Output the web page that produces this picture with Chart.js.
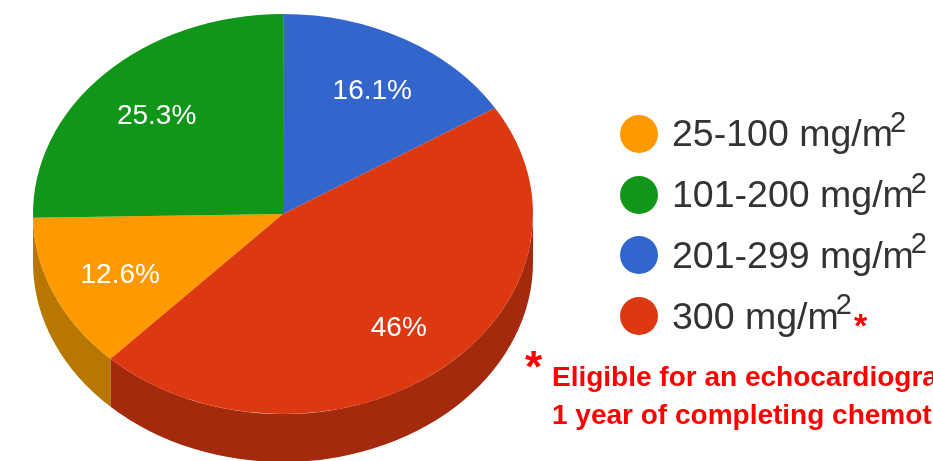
<!DOCTYPE html>
<html>
<head>
<meta charset="utf-8">
<title>Anthracycline dose groups</title>
<script src="https://cdn.jsdelivr.net/npm/chart.js@4/dist/chart.umd.min.js"></script>
<style>
  html, body { margin: 0; padding: 0; background: #fff; }
  #wrap { position: relative; width: 933px; height: 461px; overflow: hidden; font-family: "Liberation Sans", Arial, sans-serif; }
  #pie { position: absolute; left: 0; top: 0; }
  #legend { position: absolute; left: 620px; top: 103.6px; }
  .row { display: flex; align-items: center; height: 60.7px; white-space: nowrap; }
  .dot { width: 38px; height: 38px; border-radius: 50%; margin-right: 14px; flex: none; }
  .txt { font-size: 37.5px; color: #333; position: relative; }
  .txt sup { font-size: 29px; line-height: 0; position: relative; top: -1px; vertical-align: super; margin-left: -3px; }
  .txt b { color: #f00; font-size: 34px; line-height: 0; margin-left: 2px; position: relative; top: 8px; }
  #star { position: absolute; left: 525px; top: 345px; color: #f00; font-size: 44px; font-weight: bold; line-height: 1; }
  #note { position: absolute; left: 552px; top: 358px; color: #f00; font-size: 28px; font-weight: bold; line-height: 38px; white-space: nowrap; }
</style>
</head>
<body>
<div id="wrap">
  <canvas id="pie" width="933" height="461"></canvas>
  <div id="legend"></div>
  <div id="star">*</div>
  <div id="note">Eligible for an echocardiogram within<br>1 year of completing chemotherapy</div>
</div>
<script>
const categories = ['25-100', '101-200', '201-299', '300']
const shares = [12.6, 25.3, 16.1, 46]
const sliceColors = ['#ff9900', '#109618', '#3366cc', '#dc3912']
const wallColors = ['#b87700', '#0b6911', '#24478f', '#a32a0c']

const squash = 0.8 // vertical flattening of the disc
const depth = 48 // height of the disc wall
const labelAt = 0.72 // label distance from the centre, as a share of the radius

function squashAround(ctx, el) {
  ctx.translate(el.x, el.y)
  ctx.scale(1, squash)
  ctx.translate(-el.x, -el.y)
}

// only the front half of the rim is visible, clamp each slice to it
function drawWall(ctx, el, color) {
  const rx = el.outerRadius
  const ry = rx * squash
  ;[0, 2 * Math.PI].forEach((turn) => {
    const a = Math.max(el.startAngle, turn)
    const b = Math.min(el.endAngle, turn + Math.PI)
    if (b <= a) return
    ctx.beginPath()
    ctx.ellipse(el.x, el.y, rx, ry, 0, a, b)
    ctx.ellipse(el.x, el.y + depth, rx, ry, 0, b, a, true)
    ctx.closePath()
    ctx.fillStyle = color
    ctx.fill()
  })
}

const disc3d = {
  id: 'disc3d',
  beforeDatasetsDraw(chart) {
    const { ctx } = chart
    const arcs = chart.getDatasetMeta(0).data
    arcs.forEach((el, i) => drawWall(ctx, el, wallColors[i]))
    ctx.save()
    squashAround(ctx, arcs[0])
  },
  afterDatasetsDraw(chart) {
    const { ctx } = chart
    ctx.restore()
    ctx.save()
    ctx.font = '28px "Liberation Sans", Arial, sans-serif'
    ctx.fillStyle = '#fff'
    ctx.textAlign = 'center'
    ctx.textBaseline = 'middle'
    chart.getDatasetMeta(0).data.forEach((el, i) => {
      const mid = (el.startAngle + el.endAngle) / 2
      const r = el.outerRadius * labelAt
      ctx.fillText(shares[i] + '%', el.x + 2 + r * Math.cos(mid), el.y + 3 + r * squash * Math.sin(mid))
    })
    ctx.restore()
  },
}

new Chart(document.getElementById('pie'), {
  type: 'pie',
  data: {
    labels: categories,
    datasets: [{ data: shares, backgroundColor: sliceColors, borderWidth: 0, clip: false }],
  },
  options: {
    responsive: false,
    animation: false,
    radius: 250,
    rotation: 223.6,
    layout: { padding: { left: 33, right: 400, top: 0, bottom: 33 } },
    plugins: { legend: { display: false }, tooltip: { enabled: false } },
  },
  plugins: [disc3d],
})

// legend goes in html so the units can carry a real superscript
const legend = document.getElementById('legend')
categories.forEach((name, i) => {
  const row = document.createElement('div')
  row.className = 'row'
  const mark = i === categories.length - 1 ? '<b>*</b>' : ''
  row.innerHTML = `<span class="dot" style="background:${sliceColors[i]}"></span>` +
    `<span class="txt">${name} mg/m<sup>2</sup>${mark}</span>`
  legend.appendChild(row)
})
</script>
</body>
</html>
